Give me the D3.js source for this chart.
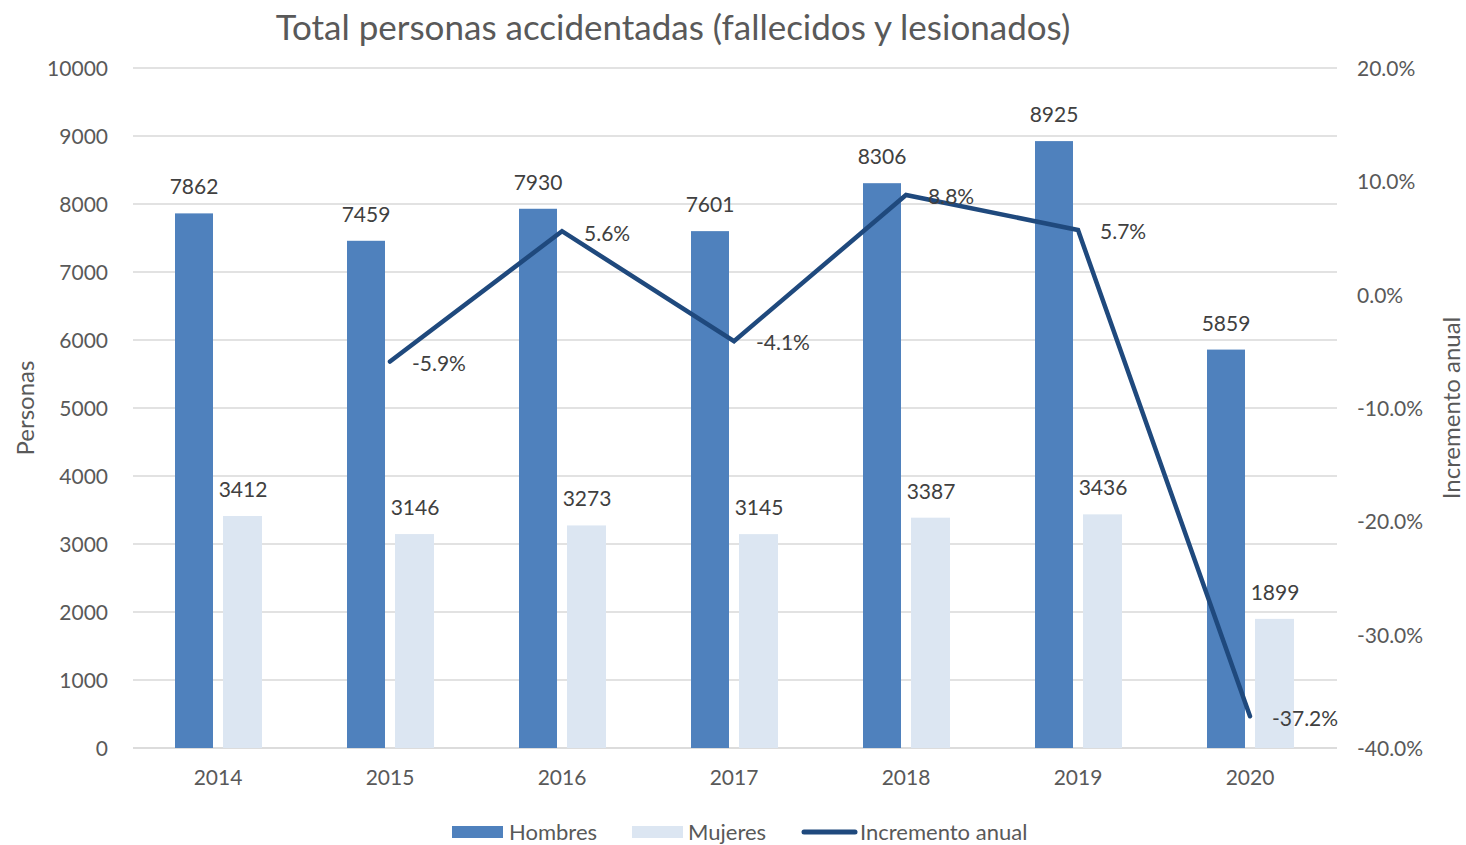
<!DOCTYPE html>
<html><head><meta charset="utf-8">
<script src="https://cdn.jsdelivr.net/npm/d3@7"></script>
<style>body{margin:0;background:#fff}svg{display:block}text{font-family:Lato,"Open Sans",sans-serif}</style>
</head><body><svg id="c" width="1466" height="845"></svg>
<script>
const years = ["2014","2015","2016","2017","2018","2019","2020"];
const hombres = [7862,7459,7930,7601,8306,8925,5859];
const mujeres = [3412,3146,3273,3145,3387,3436,1899];
const incremento = [null,-5.9,5.6,-4.1,8.8,5.7,-37.2];
const leftTicks = [0,1000,2000,3000,4000,5000,6000,7000,8000,9000,10000];
const rightTicks = [-40,-30,-20,-10,0,10,20];

const svg = d3.select("#c");
const L=133,R=1337,T=68,B=748;
const x = d3.scaleBand().domain(years).range([L,R]);
const y = d3.scaleLinear().domain([0,10000]).range([B,T]);
const y2 = d3.scaleLinear().domain([-40,20]).range([B,T]);
const cTick="#595959", cLab="#404040";
const fs=21;
const cx = d => x(d)+x.bandwidth()/2;

// gridlines
svg.append("g").selectAll("line").data(leftTicks).join("line")
  .attr("x1",L).attr("x2",R).attr("y1",d=>y(d)).attr("y2",d=>y(d))
  .attr("stroke",d=>d===0?"#d0d0d0":"#d9d9d9").attr("stroke-width",1.5);

// left axis
const ax = d3.axisLeft(y).tickValues(leftTicks).tickSize(0).tickPadding(0).tickFormat(d3.format("d"));
const gl = svg.append("g").attr("transform",`translate(108,0)`).call(ax);
gl.select(".domain").remove();
gl.selectAll("text").attr("font-size",fs).attr("fill",cTick).attr("dy","0.35em").attr("x",0);
// right axis
const ax2 = d3.axisRight(y2).tickValues(rightTicks).tickSize(0).tickFormat(d=>d.toFixed(1)+"%");
const gr = svg.append("g").attr("transform",`translate(1357,0)`).call(ax2);
gr.select(".domain").remove();
gr.selectAll("text").attr("font-size",fs).attr("fill",cTick).attr("dy","0.35em").attr("x",0);
// x axis
const axb = d3.axisBottom(x).tickSize(0);
const gb = svg.append("g").attr("transform",`translate(0,${B})`).call(axb);
gb.select(".domain").remove();
gb.selectAll("text").attr("font-size",fs).attr("fill",cTick).attr("y",30).attr("dy","0.35em").attr("x",-1);

// bars
svg.append("g").selectAll("rect").data(years).join("rect")
  .attr("x",d=>cx(d)-44).attr("width",38)
  .attr("y",(d,i)=>y(hombres[i])).attr("height",(d,i)=>B-y(hombres[i]))
  .attr("fill","#4F81BD");
svg.append("g").selectAll("rect").data(years).join("rect")
  .attr("x",d=>cx(d)+4).attr("width",39)
  .attr("y",(d,i)=>y(mujeres[i])).attr("height",(d,i)=>B-y(mujeres[i]))
  .attr("fill","#DCE6F2");
// bar labels
svg.append("g").selectAll("text").data(years).join("text")
  .attr("x",d=>cx(d)-25).attr("y",(d,i)=>y(hombres[i])-19)
  .attr("text-anchor","middle").attr("font-size",fs).attr("fill",cLab).text((d,i)=>hombres[i]);
svg.append("g").selectAll("text").data(years).join("text")
  .attr("x",d=>cx(d)+24).attr("y",(d,i)=>y(mujeres[i])-19)
  .attr("text-anchor","middle").attr("font-size",fs).attr("fill",cLab).text((d,i)=>mujeres[i]);

// line
const pts = years.map((d,i)=>({d,v:incremento[i]})).filter(p=>p.v!==null);
const line = d3.line().x(p=>cx(p.d)-1).y(p=>y2(p.v));
svg.append("path").datum(pts).attr("d",line).attr("fill","none")
  .attr("stroke","#1F497D").attr("stroke-width",4.5).attr("stroke-linejoin","miter").attr("stroke-linecap","round");
svg.append("g").selectAll("text").data(pts).join("text")
  .attr("x",p=>cx(p.d)+21).attr("y",p=>y2(p.v)+2).attr("dy","0.35em")
  .attr("font-size",fs).attr("fill",cLab).text(p=>p.v.toFixed(1)+"%");

// title
svg.append("text").attr("x",673).attr("y",28).attr("dy","0.35em").attr("text-anchor","middle")
  .attr("font-size",35).attr("fill","#595959").text("Total personas accidentadas (fallecidos y lesionados)");
// axis titles
svg.append("text").attr("transform","translate(26,408) rotate(-90)").attr("dy","0.35em").attr("text-anchor","middle")
  .attr("font-size",24).attr("fill",cTick).text("Personas");
svg.append("text").attr("transform","translate(1452,408) rotate(-90)").attr("dy","0.35em").attr("text-anchor","middle")
  .attr("font-size",24).attr("fill",cTick).text("Incremento anual");

// legend
const lfs=22;
const lg = svg.append("g");
lg.append("rect").attr("x",452).attr("y",826).attr("width",51).attr("height",12).attr("fill","#4F81BD");
lg.append("text").attr("x",509).attr("y",832).attr("dy","0.35em").attr("font-size",lfs).attr("fill",cTick).text("Hombres");
lg.append("rect").attr("x",632).attr("y",826).attr("width",51).attr("height",12).attr("fill","#DCE6F2");
lg.append("text").attr("x",688).attr("y",832).attr("dy","0.35em").attr("font-size",lfs).attr("fill",cTick).text("Mujeres");
lg.append("line").attr("x1",804).attr("x2",855).attr("y1",832).attr("y2",832).attr("stroke","#1F497D").attr("stroke-width",5).attr("stroke-linecap","round");
lg.append("text").attr("x",860).attr("y",832).attr("dy","0.35em").attr("font-size",lfs).attr("fill",cTick).text("Incremento anual");
</script></body></html>
